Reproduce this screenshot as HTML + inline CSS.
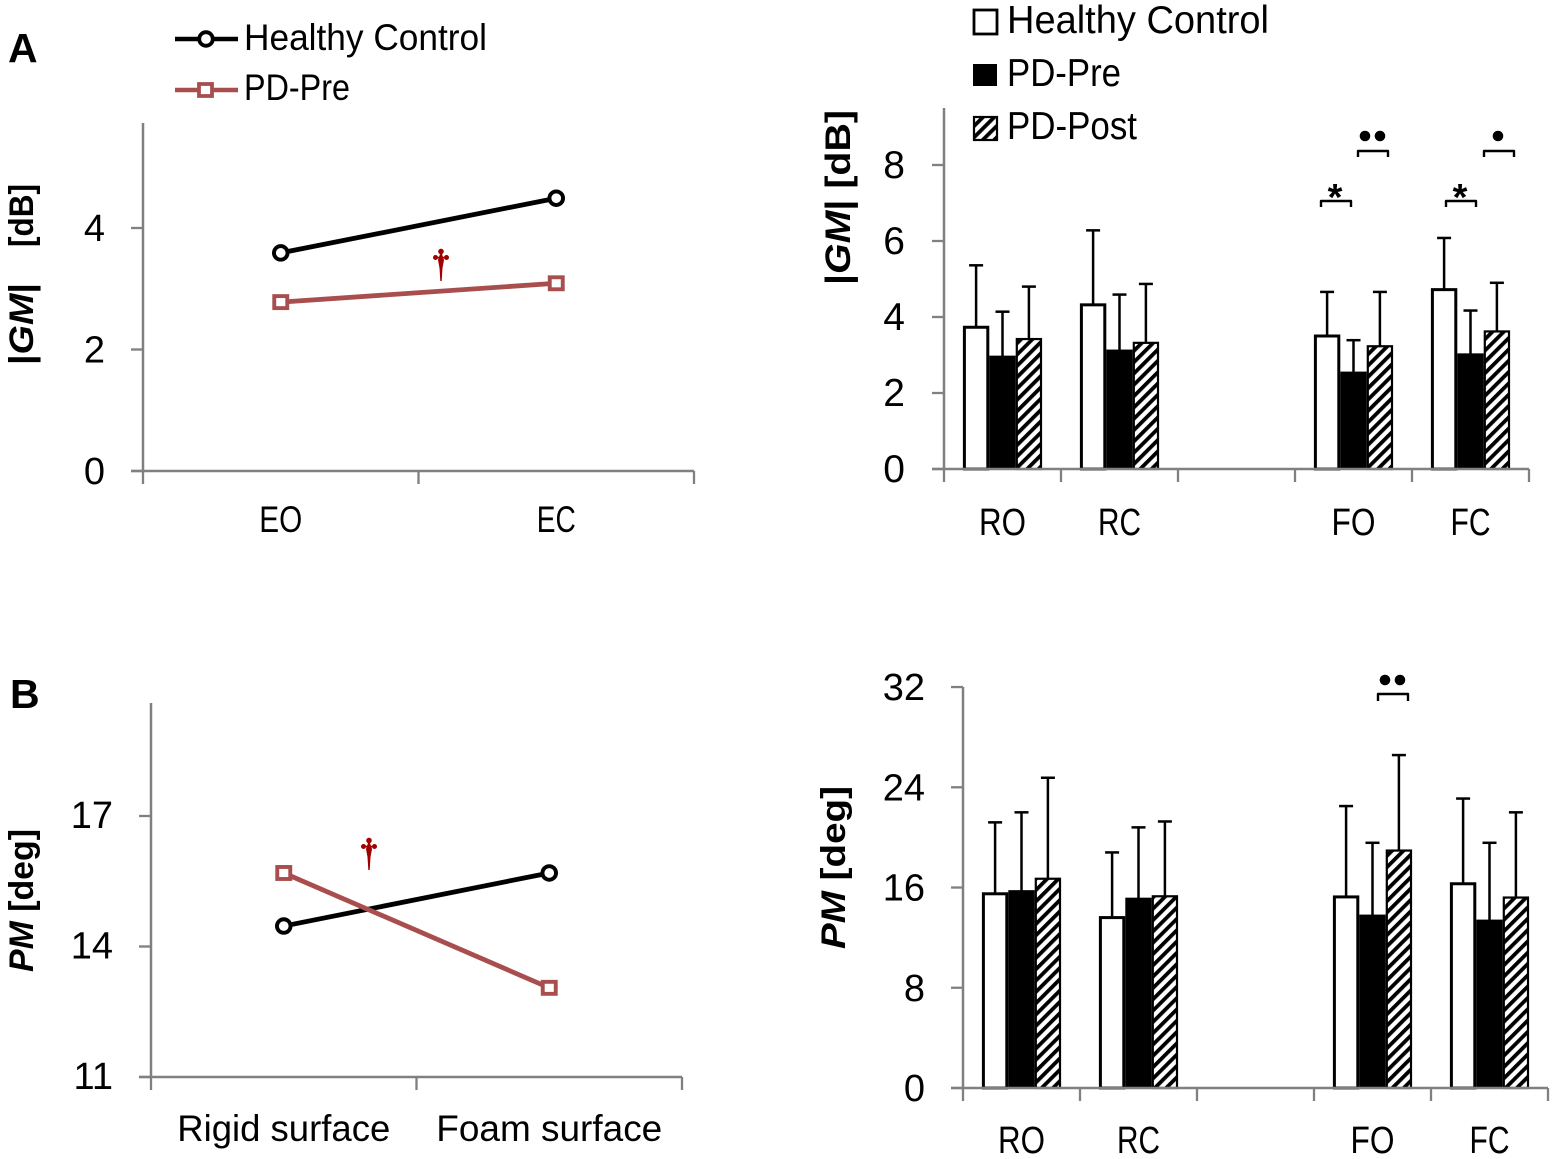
<!DOCTYPE html>
<html lang="en">
<head>
<meta charset="utf-8">
<title>GM and PM charts</title>
<style>
html,body{margin:0;padding:0;background:#fff;}
svg{display:block;}
text{font-family:"Liberation Sans",sans-serif;fill:#000;}
</style>
</head>
<body>
<svg id="fig" xmlns="http://www.w3.org/2000/svg" width="1553" height="1159" viewBox="0 0 1553 1159">
<defs>
<pattern id="hatch" patternUnits="userSpaceOnUse" width="8" height="8" patternTransform="rotate(45)">
<rect width="8" height="8" fill="#fff"/>
<rect x="0" width="3.8" height="8" fill="#000"/>
</pattern>
</defs>
<rect width="1553" height="1159" fill="#fff"/>

<text x="8" y="62" font-size="41" font-weight="bold">A</text>
<text x="10" y="708" font-size="41" font-weight="bold">B</text>

<g>
<g>
<line x1="175" y1="39" x2="238" y2="39" stroke="#000" stroke-width="4.6"/>
<circle cx="206" cy="39" r="6.8" fill="#fff" stroke="#000" stroke-width="3.8"/>
<text x="244" y="50" font-size="37" textLength="243" lengthAdjust="spacingAndGlyphs">Healthy Control</text>
</g>
<g>
<line x1="175" y1="90" x2="238" y2="90" stroke="#a94e4e" stroke-width="4.6"/>
<rect x="199" y="84" width="13" height="12" fill="#fff" stroke="#a94e4e" stroke-width="3.8"/>
<text x="244" y="100" font-size="37" textLength="106" lengthAdjust="spacingAndGlyphs">PD-Pre</text>
</g>
</g>

<g>
<g>
<rect x="974" y="10" width="23" height="24" fill="#fff" stroke="#000" stroke-width="2.8"/>
<text x="1007" y="33" font-size="39" textLength="262" lengthAdjust="spacingAndGlyphs">Healthy Control</text>
</g>
<g>
<rect x="973" y="64" width="24" height="22" fill="#000"/>
<text x="1007" y="86" font-size="39" textLength="114" lengthAdjust="spacingAndGlyphs">PD-Pre</text>
</g>
<g>
<rect x="974" y="117" width="23" height="23" fill="url(#hatch)" stroke="#000" stroke-width="2.2"/>
<text x="1007" y="139" font-size="39" textLength="130" lengthAdjust="spacingAndGlyphs">PD-Post</text>
</g>
</g>

<text transform="translate(33,365) rotate(-90)" font-size="34" font-weight="bold" textLength="82" lengthAdjust="spacingAndGlyphs">|<tspan font-style="italic">GM</tspan>|</text>
<text transform="translate(33,247) rotate(-90)" font-size="34" font-weight="bold" textLength="63" lengthAdjust="spacingAndGlyphs">[dB]</text>
<text transform="translate(850,285) rotate(-90)" font-size="35" font-weight="bold" textLength="175" lengthAdjust="spacingAndGlyphs">|<tspan font-style="italic">GM</tspan>|  [dB]</text>
<text transform="translate(33,972) rotate(-90)" font-size="34" font-weight="bold" textLength="143" lengthAdjust="spacingAndGlyphs"><tspan font-style="italic">PM</tspan> [deg]</text>
<text transform="translate(845,949) rotate(-90)" font-size="34" font-weight="bold" textLength="163" lengthAdjust="spacingAndGlyphs"><tspan font-style="italic">PM</tspan>  [deg]</text>

<g id="lineA"></g>
<g id="lineB"></g>
<g id="barA"></g>
<g id="barB"></g>

<g fill="#a00000" stroke="none" transform="translate(441,248)">
<path d="M-1 6 L0 0 L1 6 L3 12 L1.5 20 L0.7 33 L-0.7 33 L-1.5 20 L-3 12 Z"/>
<circle cx="0" cy="3.5" r="2.8"/><circle cx="-5.5" cy="9.5" r="2.5"/><circle cx="5.5" cy="9.5" r="2.5"/>
<rect x="-6" y="8.7" width="12" height="1.6"/>
</g>
<g fill="#a00000" stroke="none" transform="translate(369,837)">
<path d="M-1 6 L0 0 L1 6 L3 12 L1.5 20 L0.7 33 L-0.7 33 L-1.5 20 L-3 12 Z"/>
<circle cx="0" cy="3.5" r="2.8"/><circle cx="-5.5" cy="9.5" r="2.5"/><circle cx="5.5" cy="9.5" r="2.5"/>
<rect x="-6" y="8.7" width="12" height="1.6"/>
</g>

<g fill="none" stroke="#000" stroke-width="2.4" stroke-linejoin="round">
<path d="M1321 207V201H1351V207"/>
<path d="M1358 157V151H1388V157"/>
<path d="M1446 207V201H1476V207"/>
<path d="M1484 157V151H1514V157"/>
<path d="M1378 701V694H1408V701"/>
</g>
<g fill="#000">
<circle cx="1365" cy="136" r="5.3"/><circle cx="1380" cy="136" r="5.3"/>
<circle cx="1498" cy="136" r="5.3"/>
<circle cx="1385" cy="680" r="5.3"/><circle cx="1400" cy="680" r="5.3"/>
</g>
<text x="1335" y="210" font-size="38" font-weight="bold" text-anchor="middle">*</text>
<text x="1460" y="210" font-size="38" font-weight="bold" text-anchor="middle">*</text>
</svg>

<script>
var lineACategories = ['EO', 'EC'];
var lineATicks = [0, 2, 4];
var lineAHealthy = [3.59, 4.49];
var lineAPre = [2.78, 3.09];

var lineBCategories = ['Rigid surface', 'Foam surface'];
var lineBTicks = [11, 14, 17];
var lineBHealthy = [14.47, 15.69];
var lineBPre = [15.69, 13.05];

var barACategories = ['RO', 'RC', '', 'FO', 'FC'];
var barATicks = [0, 2, 4, 6, 8];
var barAHealthy = [3.73, 4.32, null, 3.50, 4.72];
var barAPre = [2.97, 3.13, null, 2.55, 3.03];
var barAPost = [3.42, 3.32, null, 3.23, 3.62];
var barAHealthySd = [1.63, 1.96, null, 1.16, 1.36];
var barAPreSd = [1.17, 1.46, null, 0.84, 1.14];
var barAPostSd = [1.38, 1.55, null, 1.43, 1.28];

var barBCategories = ['RO', 'RC', '', 'FO', 'FC'];
var barBTicks = [0, 8, 16, 24, 32];
var barBHealthy = [15.5, 13.6, null, 15.25, 16.3];
var barBPre = [15.75, 15.15, null, 13.8, 13.4];
var barBPost = [16.7, 15.3, null, 18.95, 15.2];
var barBHealthySd = [5.7, 5.2, null, 7.25, 6.8];
var barBPreSd = [6.25, 5.65, null, 5.77, 6.17];
var barBPostSd = [8.06, 5.97, null, 7.62, 6.8];

var NS = 'http://www.w3.org/2000/svg';
var AXIS = '#808080';
var BROWN = '#a94e4e';

function make(parent, tag, attrs) {
  var el = document.createElementNS(NS, tag);
  for (var k in attrs) { el.setAttribute(k, attrs[k]); }
  parent.appendChild(el);
  return el;
}

function drawAxes(g, cfg, categories, ticks, y) {
  var bands = categories.length;
  var right = cfg.x0 + cfg.band * bands;
  var yAxis = make(g, 'line', {x1: cfg.x0, y1: cfg.top, x2: cfg.x0, y2: y(ticks[0]), stroke: AXIS, 'stroke-width': 2.5});
  
  
  var xAxis = make(g, 'line', {x1: cfg.x0 - cfg.tickLen, y1: y(ticks[0]), x2: right, y2: y(ticks[0]), stroke: AXIS, 'stroke-width': 2.5});
  
  
  ticks.forEach(function (t) {
    var tick = make(g, 'line', {x1: cfg.x0 - cfg.tickLen, y1: y(t), x2: cfg.x0, y2: y(t), stroke: AXIS, 'stroke-width': 2.3});
    
    
    var label = make(g, 'text', {x: cfg.labelRight, y: y(t) + cfg.labelDy, 'font-size': cfg.tickFont, 'text-anchor': 'end'});
    label.textContent = String(t);
    
    
  });
  for (var i = 0; i <= bands; i++) {
    var xt = cfg.x0 + cfg.band * i;
    var xTick = make(g, 'line', {x1: xt, y1: y(ticks[0]), x2: xt, y2: y(ticks[0]) + cfg.tickLen + 1, stroke: AXIS, 'stroke-width': 2.3});
    
    
  }
  categories.forEach(function (c, i) {
    if (!c) { return; }
    var cx = cfg.x0 + cfg.band * (i + 0.5);
    var w = cfg.catWidths[i];
    var cat = make(g, 'text', {x: cx - w / 2, y: cfg.catY, 'font-size': cfg.catFont, textLength: w, lengthAdjust: 'spacingAndGlyphs'});
    cat.textContent = c;
    
    
  });
}

function drawLine(cfg, categories, ticks, healthy, pre) {
  var g = document.getElementById(cfg.id);
  var y = function (v) { return cfg.y0 - (v - ticks[0]) * cfg.unit; };
  var x = function (i) { return cfg.x0 + cfg.band * (i + 0.5); };
  drawAxes(g, cfg, categories, ticks, y);

  var pts1 = healthy.map(function (v, i) { return x(i) + ',' + y(v); }).join(' ');
  var line1 = make(g, 'polyline', {points: pts1, fill: 'none', stroke: '#000', 'stroke-width': 4.8});
  
  
  var pts2 = pre.map(function (v, i) { return x(i) + ',' + y(v); }).join(' ');
  var line2 = make(g, 'polyline', {points: pts2, fill: 'none', stroke: BROWN, 'stroke-width': 4.8});
  
  

  healthy.forEach(function (v, i) {
    var c = make(g, 'circle', {cx: x(i), cy: y(v), r: 6.8, fill: '#fff', stroke: '#000', 'stroke-width': 3.9});
    
    
  });
  pre.forEach(function (v, i) {
    var s = make(g, 'rect', {x: x(i) - 6.5, y: y(v) - 6, width: 13, height: 12, fill: '#fff', stroke: BROWN, 'stroke-width': 3.9});
    
    
  });
}

function drawBars(cfg, categories, ticks, seriesList, sdList) {
  var g = document.getElementById(cfg.id);
  var y = function (v) { return cfg.y0 - (v - ticks[0]) * cfg.unit; };
  var barW = 26.4;
  var fills = ['#fff', '#000', 'url(#hatch)'];
  var strokes = [3, 1, 2.2];
  var bg = make(g, 'g', {});
  
  
  var errG = make(g, 'g', {});
  
  

  seriesList.forEach(function (values, s) {
    values.forEach(function (v, i) {
      if (v === null) { return; }
      var left = cfg.x0 + cfg.band * (i + 0.5) + (s - 1.5) * barW;
      var inset = strokes[s] / 2;
      var bar = make(bg, 'rect', {x: left + inset, y: y(v), width: barW - inset * 2, height: y(ticks[0]) - y(v), fill: fills[s], stroke: '#000', 'stroke-width': strokes[s]});
      
      
      var cx = left + barW / 2;
      var top = y(v + sdList[s][i]);
      var stem = make(errG, 'line', {x1: cx, y1: y(v), x2: cx, y2: top, stroke: '#000', 'stroke-width': 2.5});
      
      
      var cap = make(errG, 'line', {x1: cx - 7, y1: top, x2: cx + 7, y2: top, stroke: '#000', 'stroke-width': 2.5});
      
      
    });
  });
  drawAxes(g, cfg, categories, ticks, y);
}

drawLine({id: 'lineA', x0: 143, band: 275.5, y0: 471, unit: 60.75, top: 123, tickLen: 12,
  labelRight: 105, labelDy: 13, tickFont: 38, catY: 532, catFont: 37, catWidths: [43, 39]},
  lineACategories, lineATicks, lineAHealthy, lineAPre);

drawLine({id: 'lineB', x0: 151, band: 265.5, y0: 1077, unit: 43.5, top: 703, tickLen: 12,
  labelRight: 113, labelDy: 12, tickFont: 38, catY: 1141, catFont: 37, catWidths: [213, 226]},
  lineBCategories, lineBTicks, lineBHealthy, lineBPre);

drawBars({id: 'barA', x0: 944, band: 117, y0: 469, unit: 38, top: 108, tickLen: 12,
  labelRight: 905, labelDy: 13, tickFont: 39, catY: 535, catFont: 38, catWidths: [47, 43, 0, 44, 40]},
  barACategories, barATicks, [barAHealthy, barAPre, barAPost], [barAHealthySd, barAPreSd, barAPostSd]);

drawBars({id: 'barB', x0: 963, band: 117, y0: 1088, unit: 12.53, top: 687, tickLen: 12,
  labelRight: 925, labelDy: 13, tickFont: 38, catY: 1153, catFont: 38, catWidths: [47, 43, 0, 44, 40]},
  barBCategories, barBTicks, [barBHealthy, barBPre, barBPost], [barBHealthySd, barBPreSd, barBPostSd]);
</script>
</body>
</html>
